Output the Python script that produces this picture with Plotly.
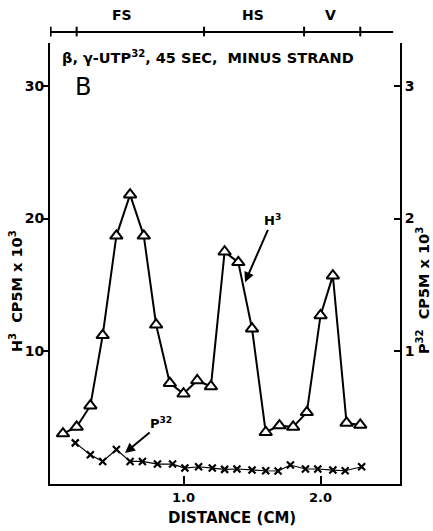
import plotly.graph_objects as go

# ---- data ----
h3_distance = [0.12, 0.22, 0.32, 0.41, 0.51, 0.61, 0.71, 0.80, 0.90, 1.00, 1.10, 1.20,
               1.30, 1.40, 1.50, 1.60, 1.70, 1.80, 1.90, 2.00, 2.09, 2.19, 2.29]
h3_cpsm = [3.8, 4.3, 5.9, 11.2, 18.7, 21.8, 18.7, 12.0, 7.6, 6.8, 7.8, 7.35,
           17.5, 16.7, 11.7, 3.9, 4.4, 4.3, 5.4, 12.7, 15.7, 4.6, 4.45]

p32_distance = [0.21, 0.32, 0.41, 0.51, 0.61, 0.70, 0.81, 0.92, 1.01, 1.11, 1.21,
                1.30, 1.39, 1.50, 1.60, 1.69, 1.78, 1.89, 1.98, 2.09, 2.18, 2.30]
p32_cpsm = [0.31, 0.22, 0.17, 0.26, 0.17, 0.17, 0.15, 0.15, 0.12, 0.13, 0.12,
            0.11, 0.113, 0.105, 0.10, 0.098, 0.143, 0.113, 0.113, 0.105, 0.10, 0.13]

x_ticks = [1.0, 2.0]
x_ticktext = ["1.0", "2.0"]
left_ticks = [10, 20, 30]
right_ticks = [1, 2, 3]

region_bounds = [0.03, 0.22, 1.15, 1.88, 2.29]
region_labels = ["FS", "HS", "V"]
region_label_pos = [0.55, 1.51, 2.07]

X_RANGE = [0.0255, 2.58]
Y_RANGE = [0, 33.23]
Y2_RANGE = [0, 3.323]

FONT = "DejaVu Sans"


def bold(size=13):
    return dict(family=FONT, size=size, color="black", weight=700)


fig = go.Figure()
fig.add_trace(go.Scatter(
    x=h3_distance, y=h3_cpsm, mode="lines+markers",
    line=dict(color="black", width=2),
    marker=dict(symbol="triangle-up", size=11, color="white",
                line=dict(color="black", width=2)),
    showlegend=False, cliponaxis=False))
fig.add_trace(go.Scatter(
    x=p32_distance, y=p32_cpsm, mode="lines+markers", yaxis="y2",
    line=dict(color="black", width=1.2),
    marker=dict(symbol="x-thin", size=7, color="black",
                line=dict(color="black", width=2.2)),
    showlegend=False, cliponaxis=False))

fig.update_layout(
    width=433, height=531,
    margin=dict(l=50, r=33, t=43, b=47),
    paper_bgcolor="white", plot_bgcolor="white",
    font=dict(family=FONT, size=13, color="black"),
    xaxis=dict(range=X_RANGE, showgrid=False, zeroline=False,
               showline=True, linecolor="black", linewidth=2,
               tickvals=x_ticks, ticktext=x_ticktext,
               ticks="inside", ticklen=8, tickwidth=2, tickcolor="black",
               tickfont=bold(13)),
    yaxis=dict(range=Y_RANGE, showgrid=False, zeroline=False,
               showline=True, linecolor="black", linewidth=2,
               tickvals=left_ticks, ticks="outside", ticklen=5, tickwidth=2,
               ticklabelstandoff=-4,
               tickcolor="black", tickfont=bold(14)),
    yaxis2=dict(range=Y2_RANGE, overlaying="y", side="right", showgrid=False,
                zeroline=False, showline=True, linecolor="black", linewidth=2,
                tickvals=right_ticks, ticks="inside", ticklen=6, tickwidth=2,
                tickcolor="black", tickfont=bold(14)),
)

# top region scale
top_y = 1.025
fig.add_shape(type="line", xref="x", yref="paper", x0=region_bounds[0], x1=2.53,
              y0=top_y, y1=top_y, line=dict(color="black", width=2))
for b in region_bounds:
    fig.add_shape(type="line", xref="x", yref="paper", x0=b, x1=b,
                  y0=top_y - 0.01, y1=top_y + 0.012, line=dict(color="black", width=2))
for lab, pos in zip(region_labels, region_label_pos):
    fig.add_annotation(text=lab, x=pos, y=1.0635, xref="x", yref="paper",
                       showarrow=False, font=bold(14), xanchor="center", yanchor="middle")

# title & panel letter
fig.add_annotation(text="β, γ-UTP<sup>32</sup>, 45 SEC,  MINUS STRAND", xref="paper", yref="paper",
                   x=0.028, y=0.968, xanchor="left", yanchor="middle", showarrow=False,
                   font=bold(14.5))
fig.add_annotation(text="B", xref="paper", yref="paper", x=0.094, y=0.900,
                   xanchor="center", yanchor="middle", showarrow=False,
                   font=dict(family=FONT, size=24, color="black"))

# axis titles
fig.add_annotation(text="H<sup>3</sup>  CP5M x 10<sup>3</sup>", xref="paper", yref="paper",
                   x=-0.097, y=0.4376, textangle=-90, showarrow=False,
                   xanchor="center", yanchor="middle", font=bold(14.5))
fig.add_annotation(text="P<sup>32</sup>  CP5M x 10<sup>3</sup>", xref="paper", yref="paper",
                   x=1.066, y=0.4376, textangle=-90, showarrow=False,
                   xanchor="center", yanchor="middle", font=bold(14.5))
fig.add_annotation(text="DISTANCE (CM)", xref="paper", yref="paper",
                   x=(232 - 50) / 350, y=-(518 - 484) / 441, showarrow=False,
                   xanchor="center", yanchor="middle", font=bold(15))

# series labels with arrows
fig.add_annotation(text="H<sup>3</sup>", x=1.449, y=15.2, xref="x", yref="y",
                   ax=27, ay=-62, showarrow=True, arrowhead=2, arrowsize=1,
                   arrowwidth=2, arrowcolor="black", font=bold(13))
fig.add_annotation(text="P<sup>32</sup>", x=0.573, y=2.34, xref="x", yref="y",
                   ax=36, ay=-30, showarrow=True, arrowhead=2, arrowsize=1,
                   arrowwidth=2, arrowcolor="black", font=bold(13))

fig.write_html("out.html")
